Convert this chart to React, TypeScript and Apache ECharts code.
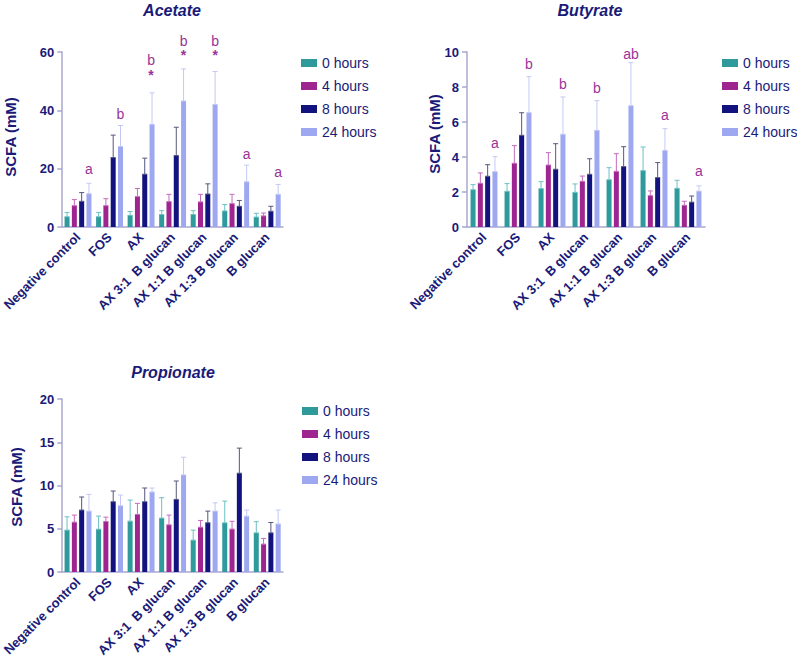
import React, { useEffect, useRef } from "react";
import * as echarts from "echarts";

const categories = [
  "Negative control",
  "FOS",
  "AX",
  "AX 3:1  B glucan",
  "AX 1:1 B glucan",
  "AX 1:3 B glucan",
  "B glucan",
];
const seriesNames = ["0 hours", "4 hours", "8 hours", "24 hours"];
const yTitle = "SCFA (mM)";

// Acetate (mM): mean and error per time point
const acetate0 = [3.5, 3.5, 4.0, 4.3, 4.3, 5.5, 3.4];
const acetate4 = [7.3, 7.3, 10.4, 8.7, 8.6, 8.0, 3.8];
const acetate8 = [8.8, 23.8, 18.1, 24.5, 11.3, 7.1, 5.4];
const acetate24 = [11.4, 27.6, 35.2, 43.2, 42.0, 15.5, 11.2];
const acetateErr0 = [1.5, 1.5, 1.3, 1.3, 1.3, 2.2, 1.3];
const acetateErr4 = [2.1, 2.4, 2.8, 2.5, 2.6, 3.2, 1.0];
const acetateErr8 = [3.0, 7.7, 5.5, 9.7, 3.5, 2.0, 1.7];
const acetateErr24 = [3.6, 7.2, 10.8, 11.0, 11.3, 5.7, 3.4];
const acetateLetters = ["a", "b", "b", "b", "b", "a", "a"];
const acetateLetterY = [20, 38.9, 57.4, 63.8, 63.8, 25.1, 18.9];
const acetateStars = [false, false, true, true, true, false, false];

// Butyrate (mM)
const butyrate0 = [2.13, 2.04, 2.19, 1.98, 2.7, 3.22, 2.21];
const butyrate4 = [2.5, 3.64, 3.54, 2.61, 3.18, 1.79, 1.24];
const butyrate8 = [2.9, 5.24, 3.3, 3.01, 3.45, 2.82, 1.42];
const butyrate24 = [3.16, 6.53, 5.3, 5.52, 6.93, 4.38, 2.05];
const butyrateErr0 = [0.29, 0.44, 0.4, 0.48, 0.69, 1.35, 0.46];
const butyrateErr4 = [0.59, 1.01, 0.71, 0.3, 1.01, 0.27, 0.23];
const butyrateErr8 = [0.66, 1.29, 1.46, 0.89, 1.14, 0.86, 0.35];
const butyrateErr24 = [0.86, 2.06, 2.13, 1.7, 2.46, 1.24, 0.3];
const butyrateLetters = ["a", "b", "b", "b", "ab", "a", "a"];
const butyrateLetterY = [4.8, 9.33, 8.19, 7.96, 9.9, 6.38, 3.2];
const butyrateStars = [false, false, false, false, false, false, false];

// Propionate (mM)
const propionate0 = [4.84, 4.95, 5.88, 6.23, 3.68, 5.68, 4.52];
const propionate4 = [5.76, 5.84, 6.65, 5.45, 5.18, 4.96, 3.22];
const propionate8 = [7.16, 8.12, 8.12, 8.39, 5.69, 11.42, 4.52];
const propionate24 = [7.04, 7.66, 9.25, 11.22, 7.04, 6.45, 5.55];
const propionateErr0 = [1.54, 1.51, 2.44, 2.36, 1.16, 2.52, 1.3];
const propionateErr4 = [0.82, 0.5, 1.28, 1.13, 0.78, 0.9, 0.66];
const propionateErr8 = [1.51, 1.24, 1.59, 2.13, 1.35, 2.9, 1.2];
const propionateErr24 = [1.93, 1.24, 0.46, 2.05, 0.96, 0.71, 1.61];

const barColors = ["#2e9a9c", "#9e2590", "#13137f", "#9ea8f0"];
const errColors = ["#6cc0c2", "#c46cbb", "#55577e", "#c3c9f4"];
const navy = "#1a1a78";
const letterColor = "#993399";
const axisColor = "#a9a9cf";
const FONT = "Liberation Sans, Arial, sans-serif";

const BAR_W = 5;
const BAR_STEP = 7.3;

function barSeries(g: number, values: number[][]) {
  return values.map((vals, si) => ({
    type: "bar",
    name: seriesNames[si],
    xAxisIndex: g,
    yAxisIndex: g,
    data: vals,
    barWidth: BAR_W,
    barGap: "46%",
    itemStyle: { color: barColors[si] },
    z: 2,
  }));
}

function errSeries(g: number, values: number[][], errs: number[][]) {
  return values.map((vals, si) => ({
    type: "custom",
    name: "err" + g + "_" + si,
    xAxisIndex: g,
    yAxisIndex: g,
    z: 3,
    silent: true,
    data: vals.map((m, i) => [i, m, m + errs[si][i]]),
    renderItem: (params: any, api: any) => {
      const base = api.coord([api.value(0), api.value(1)]);
      const top = api.coord([api.value(0), api.value(2)]);
      const x = base[0] + (si - 1.5) * BAR_STEP;
      const c = errColors[si];
      return {
        type: "group",
        children: [
          { type: "line", shape: { x1: x, y1: base[1], x2: x, y2: top[1] }, style: { stroke: c, lineWidth: 1 } },
          { type: "line", shape: { x1: x - 2.5, y1: top[1], x2: x + 2.5, y2: top[1] }, style: { stroke: c, lineWidth: 1 } },
          { type: "line", shape: { x1: x - 2.5, y1: base[1], x2: x + 2.5, y2: base[1] }, style: { stroke: c, lineWidth: 1 } },
        ],
      };
    },
  }));
}

function textSeries(g: number, ys: number[], texts: string[], stars: boolean[]) {
  return {
    type: "custom",
    name: "txt" + g,
    xAxisIndex: g,
    yAxisIndex: g,
    z: 5,
    silent: true,
    data: ys.map((y, i) => [i, y]),
    renderItem: (params: any, api: any) => {
      const i = params.dataIndex;
      const p = api.coord([api.value(0), api.value(1)]);
      const x = p[0] + 1.5 * BAR_STEP;
      const star = stars[i];
      return {
        type: "text",
        x: i === 2 && star ? x - 1 : x,
        y: p[1] - 7,
        style: {
          text: star ? "{l|" + texts[i] + "}\n{s|*}" : "{l|" + texts[i] + "}",
          fill: letterColor,
          font: "14px " + FONT,
          align: "center",
          verticalAlign: "top",
          textAlign: "center",
          textVerticalAlign: "top",
          rich: {
            l: { font: "14px " + FONT, fill: letterColor, lineHeight: 14 },
            s: { font: "bold 14px " + FONT, fill: letterColor, lineHeight: i === 2 ? 17 : 15 },
          },
        },
      };
    },
  };
}

function xAxis(g: number) {
  return {
    type: "category",
    gridIndex: g,
    data: categories,
    axisLine: { lineStyle: { color: axisColor, width: 1.5 } },
    axisTick: { alignWithLabel: true, length: 5, lineStyle: { color: axisColor, width: 1.5 } },
    axisLabel: {
      rotate: 45,
      interval: 0,
      margin: 8,
      fontSize: 13,
      fontWeight: "bold",
      color: navy,
      fontFamily: FONT,
    },
  };
}

function yAxis(g: number, max: number, interval: number) {
  return {
    type: "value",
    gridIndex: g,
    min: 0,
    max,
    interval,
    splitLine: { show: false },
    axisLine: { show: true, lineStyle: { color: axisColor, width: 1.5 } },
    axisTick: { show: true, length: 5, lineStyle: { color: axisColor, width: 1.5 } },
    axisLabel: { fontSize: 13, fontWeight: "bold", color: navy, fontFamily: FONT, margin: 8 },
  };
}

function legend(left: number, top: number) {
  return {
    left,
    top,
    padding: 0,
    orient: "vertical",
    data: seriesNames,
    icon: "rect",
    itemWidth: 16,
    itemHeight: 8,
    itemGap: 9,
    selectedMode: false,
    textStyle: { fontSize: 14, color: navy, fontFamily: FONT },
  };
}

function title(x: number, y: number, text: string) {
  return {
    type: "text",
    x,
    y,
    style: {
      text,
      font: "italic bold 16px " + FONT,
      fill: navy,
      align: "center",
      verticalAlign: "middle",
      textAlign: "center",
      textVerticalAlign: "middle",
    },
  };
}

function axisTitle(x: number, y: number) {
  return {
    type: "text",
    x,
    y,
    rotation: Math.PI / 2,
    style: {
      text: yTitle,
      font: "bold 15px " + FONT,
      fill: navy,
      align: "center",
      verticalAlign: "middle",
      textAlign: "center",
      textVerticalAlign: "middle",
    },
  };
}

export default function App() {
  const ref = useRef<HTMLDivElement>(null);
  useEffect(() => {
    if (!ref.current) return;
    const chart = echarts.init(ref.current, null, { renderer: "svg" });
    const acetate = [acetate0, acetate4, acetate8, acetate24];
    const acetateErr = [acetateErr0, acetateErr4, acetateErr8, acetateErr24];
    const butyrate = [butyrate0, butyrate4, butyrate8, butyrate24];
    const butyrateErr = [butyrateErr0, butyrateErr4, butyrateErr8, butyrateErr24];
    const propionate = [propionate0, propionate4, propionate8, propionate24];
    const propionateErr = [propionateErr0, propionateErr4, propionateErr8, propionateErr24];
    chart.setOption({
      animation: false,
      textStyle: { fontFamily: FONT },
      grid: [
        { left: 52, top: 52, width: 231, height: 175 },
        { left: 467, top: 52, width: 238, height: 175 },
        { left: 52, top: 399, width: 231, height: 173 },
      ],
      xAxis: [xAxis(0), xAxis(1), xAxis(2)],
      yAxis: [yAxis(0, 60, 20), yAxis(1, 10, 2), yAxis(2, 20, 5)],
      legend: [legend(301, 56), legend(722, 56), legend(302, 404)],
      graphic: [
        title(172, 10, "Acetate"),
        title(590, 10, "Butyrate"),
        title(173, 372, "Propionate"),
        axisTitle(10, 137),
        axisTitle(434, 134),
        axisTitle(16, 487),
      ],
      series: [
        ...barSeries(0, acetate),
        ...barSeries(1, butyrate),
        ...barSeries(2, propionate),
        ...errSeries(0, acetate, acetateErr),
        ...errSeries(1, butyrate, butyrateErr),
        ...errSeries(2, propionate, propionateErr),
        textSeries(0, acetateLetterY, acetateLetters, acetateStars),
        textSeries(1, butyrateLetterY, butyrateLetters, butyrateStars),
      ],
    });
    return () => chart.dispose();
  }, []);
  return (
    <div
      ref={ref}
      style={{ position: "absolute", left: 0, top: 0, width: 797, height: 664, background: "#fff" }}
    />
  );
}
